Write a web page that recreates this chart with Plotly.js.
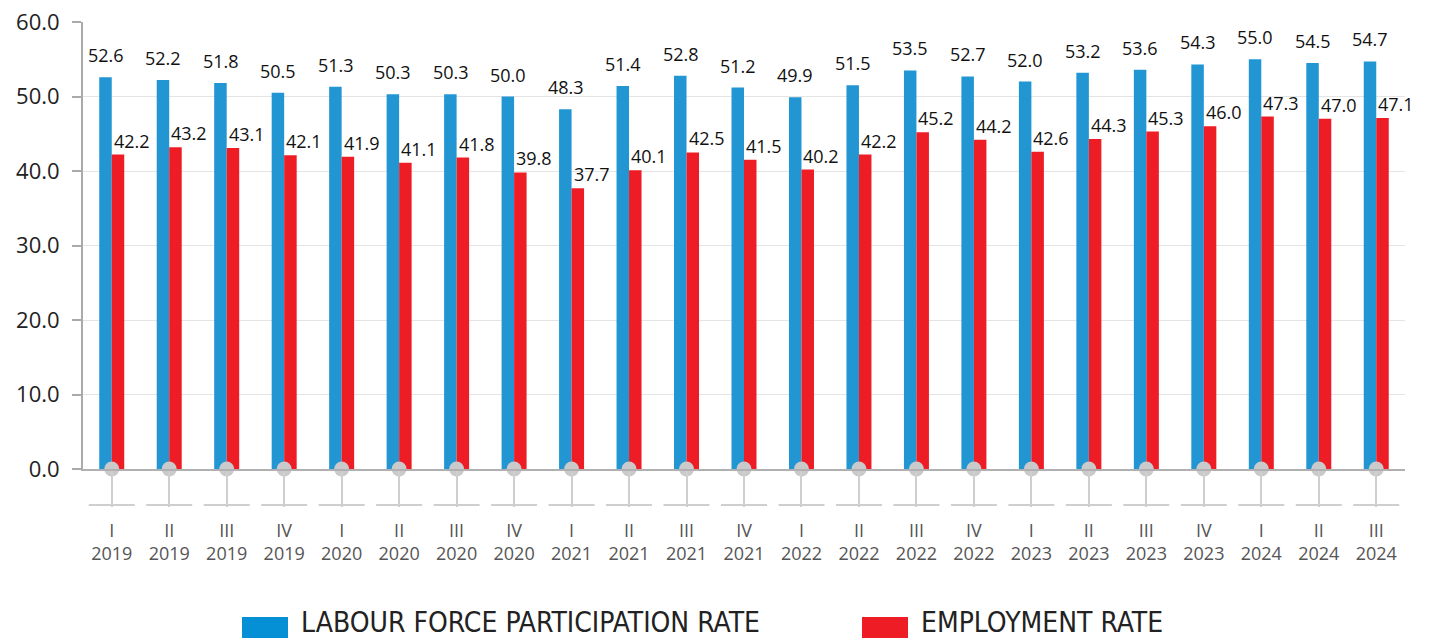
<!DOCTYPE html>
<html>
<head>
<meta charset="utf-8">
<script src="https://cdn.plot.ly/plotly-3.0.1.min.js"></script>
<style>html,body{margin:0;padding:0;background:#fff;}#chart{width:1429px;height:641px;}</style>
</head>
<body>
<div id="chart"></div>
<script>
const quarters = ["I","II","III","IV","I","II","III","IV","I","II","III","IV","I","II","III","IV","I","II","III","IV","I","II","III"];
const years = ["2019","2019","2019","2019","2020","2020","2020","2020","2021","2021","2021","2021","2022","2022","2022","2022","2023","2023","2023","2023","2024","2024","2024"];
const participationRate = [52.6,52.2,51.8,50.5,51.3,50.3,50.3,50.0,48.3,51.4,52.8,51.2,49.9,51.5,53.5,52.7,52.0,53.2,53.6,54.3,55.0,54.5,54.7];
const employmentRate = [42.2,43.2,43.1,42.1,41.9,41.1,41.8,39.8,37.7,40.1,42.5,41.5,40.2,42.2,45.2,44.2,42.6,44.3,45.3,46.0,47.3,47.0,47.1];
const seriesNames = ["LABOUR FORCE PARTICIPATION RATE","EMPLOYMENT RATE"];

const categories = quarters.map((q,i)=>q+"<br>"+years[i]);
const BLUE = "#2196d3", RED = "#ee1c25";
const W = 1429, H = 641, L = 83, R = 24, T = 22, B = 172;
const pw = W-L-R, ph = H-T-B;
const px2x = p => (p-L)/pw;
const py2y = p => (H-B-p)/ph;

const traces = [
  {type:"bar", name:seriesNames[0], x:categories, y:participationRate, marker:{color:BLUE}, hoverinfo:"x+y"},
  {type:"bar", name:seriesNames[1], x:categories, y:employmentRate, marker:{color:RED}, hoverinfo:"x+y"},
  {type:"scatter", mode:"markers", x:categories, y:categories.map(()=>0), marker:{size:15,color:"#cacacc"}, cliponaxis:false, hoverinfo:"skip", showlegend:false}
];

const annotations = [];
categories.forEach((c,i)=>{
  annotations.push({x:c, y:participationRate[i], xref:"x", yref:"y", text:participationRate[i].toFixed(1), showarrow:false, xanchor:"center", yanchor:"middle", xshift:-6, yshift:22, font:{family:"Open Sans, sans-serif", size:18, color:"#111"}});
  annotations.push({x:c, y:employmentRate[i], xref:"x", yref:"y", text:employmentRate[i].toFixed(1), showarrow:false, xanchor:"center", yanchor:"middle", xshift:20, yshift:14, font:{family:"Open Sans, sans-serif", size:18, color:"#111"}});
});
// manual legend
const legendItems = [{name:seriesNames[0], color:"#0590d6", x:242}, {name:seriesNames[1], color:RED, x:862}];
const shapes = [];
legendItems.forEach(it=>{
  shapes.push({type:"rect", xref:"paper", yref:"paper", x0:px2x(it.x), x1:px2x(it.x+46), y0:py2y(638), y1:py2y(617), fillcolor:it.color, line:{width:0}});
  annotations.push({xref:"paper", yref:"paper", x:px2x(it.x+57), y:py2y(622), text:it.name, showarrow:false, xanchor:"left", yanchor:"middle", font:{family:"Liberation Sans Narrow, DejaVu Sans Condensed, sans-serif", size:28, color:"#222"}});
});
// short horizontal segments under each category tick
categories.forEach((c,i)=>{
  shapes.push({type:"line", xref:"x", yref:"paper", x0:i-0.4, x1:i+0.4, y0:py2y(505), y1:py2y(505), line:{color:"#cfcfcf", width:2}});
});

const layout = {
  width:W, height:H,
  margin:{l:L, r:R, t:T, b:B, pad:0},
  paper_bgcolor:"#fff", plot_bgcolor:"#fff",
  barmode:"group", bargap:0.565, bargroupgap:0,
  showlegend:false,
  xaxis:{type:"category", range:[-0.5, categories.length-0.5], autorange:false, showline:true, linecolor:"#b0b0b0", linewidth:2, ticks:"outside", ticklen:36, tickwidth:2, tickcolor:"#cfcfcf", showgrid:false, tickfont:{family:"Open Sans, sans-serif", size:18, color:"#555"}, ticklabelstandoff:8},
  yaxis:{range:[0,60], dtick:10, tickformat:".1f", showline:true, linecolor:"#aaa", linewidth:2, ticks:"outside", ticklen:9, tickwidth:2, tickcolor:"#aaa", gridcolor:"#e4e4e4", gridwidth:1, zeroline:false, tickfont:{family:"Open Sans, sans-serif", size:22, color:"#222"}, ticklabelstandoff:8},
  annotations:annotations,
  shapes:shapes
};
Plotly.newPlot("chart", traces, layout, {displayModeBar:false, staticPlot:true});
</script>
</body>
</html>
